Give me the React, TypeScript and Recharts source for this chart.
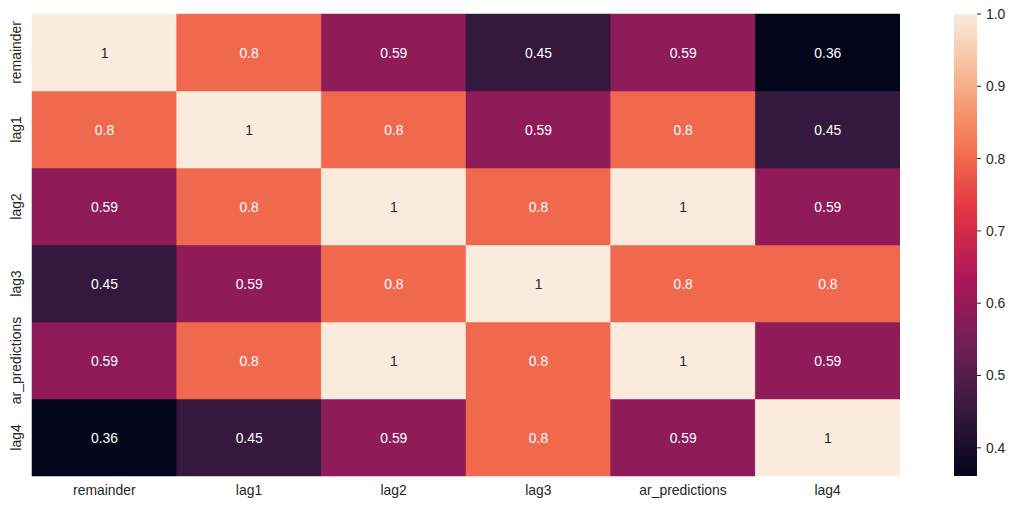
import { BarChart, Bar, Cell, LabelList, XAxis, YAxis, ComposedChart, ReferenceArea } from 'recharts'

const FONT = '"Liberation Sans", Arial, sans-serif'
const INK = '#262626'

// ── Data ─────────────────────────────────────────────────────────────────────
const LABELS = ['remainder', 'lag1', 'lag2', 'lag3', 'ar_predictions', 'lag4']

const remainderRow = [1, 0.8, 0.59, 0.45, 0.59, 0.36]
const lag1Row = [0.8, 1, 0.8, 0.59, 0.8, 0.45]
const lag2Row = [0.59, 0.8, 1, 0.8, 1, 0.59]
const lag3Row = [0.45, 0.59, 0.8, 1, 0.8, 0.8]
const arPredictionsRow = [0.59, 0.8, 1, 0.8, 1, 0.59]
const lag4Row = [0.36, 0.45, 0.59, 0.8, 0.59, 1]

const MATRIX = [remainderRow, lag1Row, lag2Row, lag3Row, arPredictionsRow, lag4Row]

const COLORBAR_TICKS = [0.4, 0.5, 0.6, 0.7, 0.8, 0.9, 1.0]
const VMIN = 0.361
const VMAX = 1.0

// rocket colormap, sampled
const ROCKET: [number, string][] = [
  [0, '#03051a'],
  [1 / 7, '#35193e'],
  [2 / 7, '#701f57'],
  [3 / 7, '#ad1759'],
  [4 / 7, '#e13342'],
  [5 / 7, '#f37651'],
  [6 / 7, '#f6b48f'],
  [1, '#faebdd'],
]

function hexToRgb(h: string) {
  return [1, 3, 5].map((i) => parseInt(h.slice(i, i + 2), 16))
}

function rocket(v: number) {
  const t = Math.max(0, Math.min(1, (v - VMIN) / (VMAX - VMIN)))
  for (let i = 0; i < ROCKET.length - 1; i++) {
    const [p0, c0] = ROCKET[i]
    const [p1, c1] = ROCKET[i + 1]
    if (t <= p1) {
      const f = (t - p0) / (p1 - p0)
      const a = hexToRgb(c0)
      const b = hexToRgb(c1)
      const rgb = a.map((x, k) => Math.round(x + (b[k] - x) * f))
      return `rgb(${rgb.join(',')})`
    }
  }
  return ROCKET[ROCKET.length - 1][1]
}

function textColor(v: number) {
  const rgb = rocket(v).match(/\d+/g)!.map((n) => {
    const c = Number(n) / 255
    return c <= 0.03928 ? c / 12.92 : Math.pow((c + 0.055) / 1.055, 2.4)
  })
  const lum = 0.2126 * rgb[0] + 0.7152 * rgb[1] + 0.0722 * rgb[2]
  return lum > 0.408 ? INK : '#ffffff'
}

// one entry per column, every row stacked with unit height
const chartData = LABELS.map((name) => {
  const row: Record<string, unknown> = { name }
  LABELS.forEach((_, ri) => { row[`r${ri}`] = 1 })
  return row
})

// ── Ticks ────────────────────────────────────────────────────────────────────
function RowTick({ x, y, payload }: { x?: number; y?: number; payload?: { value: number } }) {
  const idx = Math.round(5.5 - (payload?.value ?? 0))
  const tx = (x ?? 0) - 8
  return (
    <text
      x={tx}
      y={y}
      transform={`rotate(-90, ${tx}, ${y})`}
      textAnchor="middle"
      dominantBaseline="central"
      fontSize={13.9}
      fontFamily={FONT}
      fill={INK}
    >
      {LABELS[idx]}
    </text>
  )
}

function CellLabel(ri: number) {
  return (props: { x?: number; y?: number; width?: number; height?: number; index?: number }) => {
    const { x = 0, y = 0, width = 0, height = 0, index = 0 } = props
    const v = MATRIX[ri][index]
    return (
      <text
        x={x + width / 2}
        y={y + height / 2}
        textAnchor="middle"
        dominantBaseline="central"
        fontSize={13.9}
        fontFamily={FONT}
        fill={textColor(v)}
      >
        {String(v)}
      </text>
    )
  }
}

// ── Main ─────────────────────────────────────────────────────────────────────
export default function App() {
  const stackOrder = [5, 4, 3, 2, 1, 0] // bottom row first
  return (
    <div style={{ position: 'absolute', left: 0, top: 0, width: 1016, height: 508, background: '#fff' }}>
      <BarChart
        width={900}
        height={508}
        data={chartData}
        margin={{ top: 14, right: 0, left: 0, bottom: 0 }}
        barCategoryGap={0}
        barGap={0}
      >
        <XAxis
          dataKey="name"
          axisLine={false}
          tickLine={false}
          height={32}
          tickMargin={3}
          tick={{ fontSize: 13.9, fontFamily: FONT, fill: INK }}
        />
        <YAxis
          type="number"
          domain={[0, 6]}
          ticks={[0.5, 1.5, 2.5, 3.5, 4.5, 5.5]}
          axisLine={false}
          tickLine={false}
          width={32}
          tick={<RowTick />}
        />
        {stackOrder.map((ri) => (
          <Bar key={ri} dataKey={`r${ri}`} stackId="m" isAnimationActive={false}>
            {MATRIX[ri].map((v, ci) => (
              <Cell key={ci} fill={rocket(v)} stroke={rocket(v)} strokeWidth={0.5} />
            ))}
            <LabelList content={CellLabel(ri)} />
          </Bar>
        ))}
      </BarChart>

      <div style={{ position: 'absolute', left: 954, top: 0 }}>
        <ComposedChart width={62} height={508} data={[{ x: 0 }]} margin={{ top: 14, right: 0, left: 0, bottom: 32 }}>
          <defs>
            <linearGradient id="rocketGrad" x1="0" y1="1" x2="0" y2="0">
              {ROCKET.map(([p, c]) => (
                <stop key={p} offset={`${p * 100}%`} stopColor={c} />
              ))}
            </linearGradient>
          </defs>
          <XAxis type="number" dataKey="x" domain={[0, 1]} hide />
          <ReferenceArea y1={VMIN} y2={VMAX} x1={0} x2={1} fill="url(#rocketGrad)" fillOpacity={1} stroke="none" ifOverflow="extendDomain" />
          <YAxis
            type="number"
            orientation="right"
            domain={[VMIN, VMAX]}
            ticks={COLORBAR_TICKS}
            allowDataOverflow
            width={39}
            axisLine={false}
            stroke={INK}
            tickSize={4}
            tickMargin={5}
            tickLine={{ stroke: INK, strokeWidth: 1 }}
            tickFormatter={(v: number) => v.toFixed(1)}
            tick={{ fontSize: 13.9, fontFamily: FONT, fill: INK }}
          />
        </ComposedChart>
      </div>
    </div>
  )
}
